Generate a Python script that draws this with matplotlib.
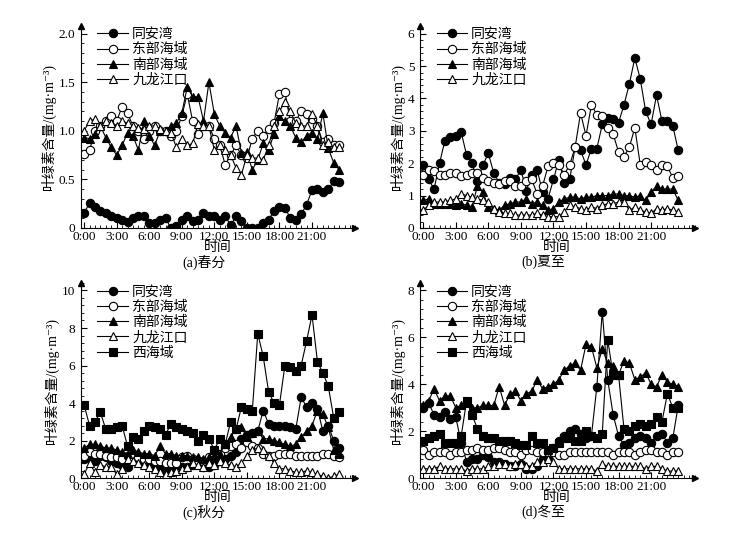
import numpy as np
import matplotlib
matplotlib.use('Agg')
import matplotlib.pyplot as plt
from matplotlib.ticker import MultipleLocator

plt.rcParams['font.family'] = ['Liberation Serif', 'Noto Sans CJK SC', 'DejaVu Serif']
plt.rcParams['font.size'] = 10

names = ['同安湾', '东部海域', '南部海域', '九龙江口', '西海域']
tick_hours = [0, 3, 6, 9, 12, 15, 18, 21]
tick_labels = ['0:00', '3:00', '6:00', '9:00', '12:00', '15:00', '18:00', '21:00']

# (a) spring equinox
a_tab = [.15,.26,.22,.18,.15,.12,.10,.08,.06,.10,.12,.12,.05,.05,.08,.10,0,.02,.08,.12,
         .07,.08,.15,.12,.12,.08,.12,.03,.12,.07,0,0,0,.05,.08,.18,.22,.21,.10,.08,
         .14,.24,.39,.40,.37,.40,.48,.47]
a_east = [.76,.80,1.0,1.05,1.1,1.15,1.1,1.25,1.18,1.05,1.0,.92,1.0,1.05,1.0,1.0,.95,1.0,1.15,1.38,
          1.1,.97,1.05,1.05,.92,.85,.65,.75,.85,.75,.72,.92,1.0,.95,1.02,1.08,1.38,1.4,1.1,1.1,
          1.2,1.17,1.12,1.05,.88,.92,.85,.85]
a_south = [.93,.92,.97,1.05,.93,.83,.75,.85,.98,.95,.80,1.1,.95,.85,1.0,1.0,1.05,1.08,1.18,1.45,
           1.35,1.35,1.1,1.5,1.17,1.05,.98,.93,1.05,.77,.78,.60,.70,.87,.80,.97,1.15,1.1,1.05,.93,
           .88,.95,.98,.92,1.18,.82,.67,.6]
a_jl = [1.0,1.1,1.12,1.05,1.1,1.08,1.05,1.1,1.08,1.05,1.03,1.02,1.05,1.05,1.02,1.0,.98,.83,.92,.85,
        .87,1.07,1.05,1.05,.80,.85,.80,.75,.62,.55,.75,.72,.72,.70,.85,1.05,1.2,1.3,1.2,1.08,
        1.05,1.05,1.17,1.05,.85,.88,.83,.83]

# (b) summer solstice
b_tab = [1.95,1.5,1.2,2.0,2.7,2.8,2.85,2.95,2.25,2.0,1.45,1.95,2.3,1.7,1.4,1.35,1.55,1.5,1.8,1.15,
         1.65,1.8,1.1,.9,1.5,2.1,1.4,1.5,2.5,2.4,1.95,2.45,2.45,3.2,3.4,3.35,3.25,3.8,4.45,5.25,
         4.6,3.6,3.2,4.1,3.3,3.3,3.15,2.4]
b_east = [1.65,1.8,1.75,1.65,1.65,1.7,1.7,1.6,1.65,1.7,1.7,1.55,1.45,1.4,1.35,1.45,1.45,1.3,1.3,1.45,
          1.5,1.05,1.3,1.9,2.0,1.95,1.65,1.95,2.5,3.55,2.85,3.8,3.5,3.45,3.1,2.9,2.35,2.2,2.5,3.1,
          1.95,2.05,1.95,1.8,1.95,1.9,1.55,1.6]
b_south = [.85,.9,.75,.75,.75,.75,.7,.75,.7,.65,1.3,1.1,.65,.6,.55,.7,.75,.8,.8,.9,
           .75,.8,.7,.55,.6,.8,.9,.95,.95,.9,.95,.95,1.0,1.0,1.0,1.05,1.05,1.0,1.0,.95,
           1.0,.85,1.1,1.3,1.2,1.2,1.2,.85]
b_jl = [.55,.7,.8,.8,.8,.85,.9,1.05,1.0,.95,.9,.85,.8,.6,.5,.45,.45,.4,.4,.4,
        .4,.45,.4,.35,.35,.35,.5,.7,.65,.6,.55,.65,.6,.7,.75,.75,.8,.8,.55,.65,
        .55,.5,.45,.6,.55,.6,.55,.5]

# (c) autumn equinox
c_tab = [1.0,1.0,.9,1.2,1.1,.9,.8,.7,.6,1.2,1.0,.9,.8,.7,.5,.4,.5,.7,.6,.6,
         .7,.8,.6,.6,.7,.9,1.0,1.2,1.4,2.1,2.3,2.4,2.5,3.6,2.9,2.8,2.8,2.8,2.7,2.6,
         4.3,3.8,4.0,3.7,2.5,2.8,2.0,1.6]
c_east = [1.2,1.4,1.3,1.3,1.2,1.1,1.1,1.0,1.2,1.1,1.1,1.0,1.0,.9,.9,.8,.8,.8,1.1,1.2,
          1.0,.9,.9,1.1,1.2,1.3,1.6,1.7,1.8,1.6,1.9,1.7,1.6,1.3,1.2,1.2,1.3,1.3,1.3,1.2,
          1.2,1.2,1.2,1.2,1.3,1.3,1.2,1.1]
c_south = [1.6,1.8,1.8,1.7,1.6,1.6,1.5,1.4,1.3,1.5,1.4,1.3,1.3,1.2,1.7,1.3,1.3,1.2,1.2,1.2,
           1.1,1.1,1.0,1.1,1.2,1.3,1.8,2.2,2.6,2.7,2.2,2.4,2.5,2.1,2.1,2.0,1.9,1.8,1.7,1.8,
           2.2,2.5,2.8,3.6,3.4,2.7,1.5,1.3]
c_jl = [.2,.8,.3,.7,.6,.6,.2,.5,1.0,.9,.8,.7,.6,.5,.3,.2,.3,.4,.5,.6,
        .8,.7,.6,.8,.7,.9,.8,.7,.6,.8,1.2,1.5,1.6,1.5,1.2,.8,.5,.5,.4,.3,
        .3,.4,.3,.2,.1,0,.1,.2]
c_west = [3.9,2.8,3.0,3.5,2.6,2.6,2.7,2.8,1.7,2.2,2.1,2.5,2.8,2.7,2.6,2.3,2.9,2.7,2.6,2.5,
          2.4,2.0,2.3,2.1,1.5,2.1,1.8,3.0,2.6,3.8,3.7,3.6,7.7,6.5,4.6,4.0,3.9,6.0,5.9,5.7,
          6.0,7.3,8.7,6.2,5.6,4.9,3.2,3.5]

# (d) winter solstice
d_tab = [3.0,3.2,2.7,2.6,2.8,2.5,2.6,1.5,.7,.8,.8,1.0,.9,.7,.7,.6,.5,.5,.6,.4,
         .4,.5,.8,.9,1.3,1.6,1.8,2.0,2.1,1.9,1.7,1.8,3.9,7.1,4.2,2.7,1.8,1.4,1.5,1.7,
         1.8,1.7,1.5,1.8,1.9,1.5,1.7,3.1]
d_east = [1.2,1.0,1.1,1.1,1.1,1.0,1.1,1.1,1.2,1.2,1.3,1.2,1.2,1.3,1.3,1.2,1.1,1.1,1.0,1.2,
          1.2,1.1,1.1,1.1,1.1,1.0,1.0,1.1,1.1,1.1,1.1,1.1,1.1,1.1,1.1,1.0,1.1,1.1,1.1,1.0,
          1.1,1.2,1.2,1.1,1.1,1.0,1.1,1.1]
d_south = [3.1,3.3,3.8,3.3,3.5,3.5,3.0,3.1,3.2,3.0,3.0,3.1,3.1,3.1,3.9,3.1,3.6,3.7,3.3,3.6,
           3.7,4.2,3.8,3.9,4.0,4.2,4.6,4.8,4.9,4.6,5.7,5.6,4.7,5.5,4.9,4.8,4.4,5.0,4.9,4.2,
           4.3,4.5,4.0,3.9,4.4,4.1,4.0,3.9]
d_jl = [.4,.4,.4,.5,.4,.4,.4,.4,.3,.4,.4,.4,.5,.5,.6,.6,.5,.6,.6,.5,
        .5,.7,.7,.8,.7,.4,.4,.4,.4,.4,.4,.4,.3,.6,.5,.5,.5,.5,.5,.5,
        .5,.4,.5,.5,.4,.3,.3,.3]
d_west = [1.6,1.7,1.8,1.9,1.5,1.5,1.5,1.8,3.3,2.7,2.1,1.8,1.7,1.7,1.6,1.6,1.6,1.5,1.4,1.4,
          1.8,1.5,1.5,1.2,1.3,1.5,1.7,1.7,1.6,1.6,2.0,1.8,1.7,1.9,5.9,4.4,4.4,2.1,2.0,2.2,
          2.3,2.2,2.3,2.6,2.4,3.6,3.0,3.0]

panels = [
    ('(a)春分', [a_tab, a_east, a_south, a_jl], 2.0, 0.5, ['0', '0.5', '1.0', '1.5', '2.0']),
    ('(b)夏至', [b_tab, b_east, b_south, b_jl], 6, 1, None),
    ('(c)秋分', [c_tab, c_east, c_south, c_jl, c_west], 10, 2, None),
    ('(d)冬至', [d_tab, d_east, d_south, d_jl, d_west], 8, 2, None),
]
styles = [dict(marker='o', mfc='black'), dict(marker='o', mfc='white'),
          dict(marker='^', mfc='black'), dict(marker='^', mfc='white'),
          dict(marker='s', mfc='black')]
rects = [[0.109, 0.577, 0.37, 0.375], [0.566, 0.577, 0.37, 0.375],
         [0.109, 0.113, 0.37, 0.362], [0.566, 0.113, 0.37, 0.362]]

fig = plt.figure(figsize=(7.42, 5.39), dpi=100)
for k, (cap, series, ymax, ystep, ylabs) in enumerate(panels):
    ax = fig.add_axes(rects[k])
    for j, y in enumerate(series):
        x = np.arange(len(y)) * 0.5
        ax.plot(x, y, color='black', lw=0.8, ms=6, mec='black', mew=0.8,
                label=names[j], **styles[j])
    ax.set_xlim(-0.3, 25)
    ax.set_ylim(0, ymax * 1.04)
    ax.set_xticks(tick_hours)
    ax.set_xticklabels(tick_labels)
    ax.xaxis.set_minor_locator(MultipleLocator(0.5))
    ax.set_yticks(np.arange(0, ymax + 0.001, ystep))
    if ylabs:
        ax.set_yticklabels(ylabs)
    ax.yaxis.set_minor_locator(MultipleLocator(ystep / 5))
    ax.tick_params(which='both', direction='in', labelsize=9.5, pad=2)
    ax.tick_params(axis='y', pad=4)
    ax.tick_params(which='major', length=4)
    ax.tick_params(which='minor', length=2)
    ax.spines['top'].set_visible(False)
    ax.spines['right'].set_visible(False)
    ax.plot(1, 0, '>k', ms=4, transform=ax.transAxes, clip_on=False)
    ax.plot(0, 1, '^k', ms=4, transform=ax.transAxes, clip_on=False)
    ax.set_xlabel('时间', labelpad=-1)
    ax.set_ylabel('叶绿素含量/(mg·m⁻³)', labelpad=2)
    ax.text(0.45, -0.135, cap, transform=ax.transAxes, ha='center', va='top')
    ax.legend(loc='upper left', frameon=False, fontsize=10, handlelength=2.2,
              handletextpad=0.3, labelspacing=0.15, borderaxespad=0.2,
              bbox_to_anchor=(0.03, 1.03))

fig.savefig('out.png', dpi=100)
